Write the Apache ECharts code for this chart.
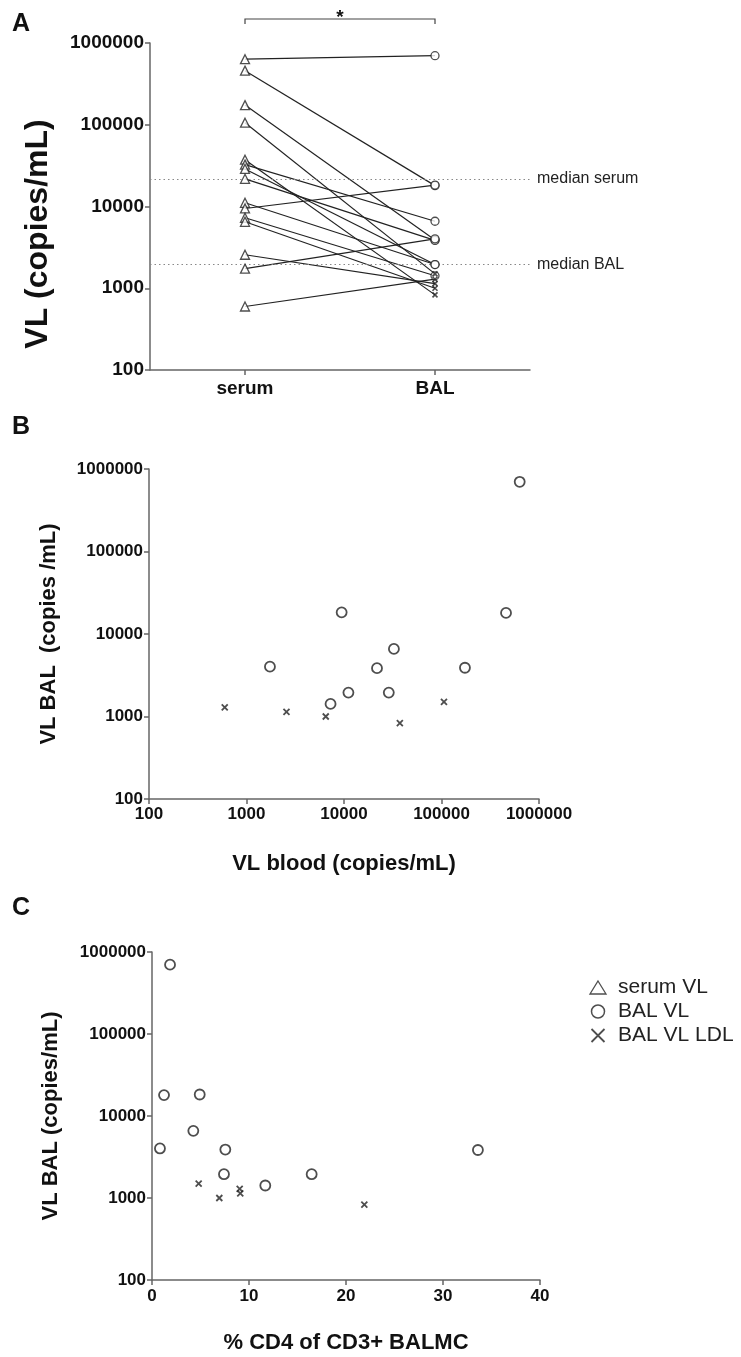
<!DOCTYPE html>
<html>
<head>
<meta charset="utf-8">
<script src="https://cdn.jsdelivr.net/npm/echarts@6/dist/echarts.min.js"></script>
<style>
html,body{margin:0;padding:0;background:#fff;}
#chart{width:741px;height:1357px;}
</style>
</head>
<body>
<div id="chart"></div>
<script>
// ---- data (per patient) ----
const categories = ['serum', 'BAL'];
const serumVL = [634000, 459000, 174000, 106000, 37400, 32500, 28800, 21800, 11100, 9460, 7280, 6500, 2570, 1740, 598];
const balVL   = [700000, 18000, 3900, 1500, 830, 6600, 1950, 3850, 1950, 18300, 1420, 1000, 1140, 4020, 1290];
const balLDL  = [false, false, false, true, true, false, false, false, false, false, false, true, true, false, true];
const cd4Pct  = [1.86, 1.24, 7.56, 4.81, 21.89, 4.26, 7.42, 33.6, 16.46, 4.92, 11.68, 6.94, 9.1, 0.82, 9.04];
const medianSerum = 21800;
const medianBAL = 1950;
const logTicks = [100, 1000, 10000, 100000, 1000000];
const cd4Ticks = [0, 10, 20, 30, 40];

const FONT = 'Liberation Sans';
const AX = '#666';
const CROSS = 'path://M0,0L10,10M10,0L0,10';

const chart = echarts.init(document.getElementById('chart'), null, {renderer: 'canvas'});

function logY(gridIndex, fs, name, gap) {
  return {
    type: 'log', logBase: 10, gridIndex: gridIndex, min: logTicks[0], max: logTicks[logTicks.length - 1],
    axisLine: {show: true, lineStyle: {color: AX, width: 1.5}},
    axisTick: {show: true, length: 5, lineStyle: {color: AX, width: 1.5}},
    splitLine: {show: false},
    axisLabel: {fontFamily: FONT, fontWeight: 'bold', fontSize: fs, color: '#111', margin: 6,
      formatter: v => String(Math.round(v))},
    name: name, nameLocation: 'middle', nameGap: gap,
    nameTextStyle: {fontFamily: FONT, fontWeight: 'bold', fontSize: 22, color: '#111'}
  };
}

const series = [];
// panel A: paired lines
for (let i = 0; i < serumVL.length; i++) {
  series.push({
    type: 'line', xAxisIndex: 0, yAxisIndex: 0, data: [serumVL[i], balVL[i]],
    symbol: 'none', lineStyle: {color: '#222', width: 1.2}, silent: true, z: 2
  });
}
const symStyle = {color: '#fff', borderColor: '#222', borderWidth: 1.3};
const crossStyle = {color: 'none', borderColor: '#222', borderWidth: 1.6};
// panel A markers
series.push({
  name: 'serum VL', type: 'scatter', xAxisIndex: 0, yAxisIndex: 0,
  data: serumVL.map(v => ['serum', v]), symbol: 'triangle', symbolSize: 9, itemStyle: symStyle, z: 5,
  markLine: {
    silent: true, symbol: 'none',
    lineStyle: {color: '#888', type: [1.5, 3], width: 1},
    label: {show: true, position: 'end', fontFamily: FONT, fontSize: 16, color: '#222', distance: 7,
      formatter: p => p.name},
    data: [{name: 'median serum', yAxis: medianSerum}, {name: 'median BAL', yAxis: medianBAL}]
  }
});
series.push({
  name: 'BAL VL', type: 'scatter', xAxisIndex: 0, yAxisIndex: 0,
  data: balVL.map((v, i) => balLDL[i] ? null : ['BAL', v]).filter(d => d), symbol: 'circle', symbolSize: 8, itemStyle: symStyle, z: 5
});
series.push({
  name: 'BAL VL LDL', type: 'scatter', xAxisIndex: 0, yAxisIndex: 0,
  data: balVL.map((v, i) => balLDL[i] ? ['BAL', v] : null).filter(d => d), symbol: CROSS, symbolSize: 5, itemStyle: crossStyle, z: 5
});
// panel B
series.push({
  name: 'BAL VL', type: 'scatter', xAxisIndex: 1, yAxisIndex: 1,
  data: serumVL.map((v, i) => balLDL[i] ? null : [v, balVL[i]]).filter(d => d),
  symbol: 'circle', symbolSize: 10, itemStyle: {color: '#fff', borderColor: '#222', borderWidth: 1.8}
});
series.push({
  name: 'BAL VL LDL', type: 'scatter', xAxisIndex: 1, yAxisIndex: 1,
  data: serumVL.map((v, i) => balLDL[i] ? [v, balVL[i]] : null).filter(d => d),
  symbol: CROSS, symbolSize: 6, itemStyle: {color: 'none', borderColor: '#222', borderWidth: 1.8}
});
// panel C
series.push({
  name: 'BAL VL', type: 'scatter', xAxisIndex: 2, yAxisIndex: 2,
  data: cd4Pct.map((v, i) => balLDL[i] ? null : [v, balVL[i]]).filter(d => d),
  symbol: 'circle', symbolSize: 10, itemStyle: {color: '#fff', borderColor: '#222', borderWidth: 1.8}
});
series.push({
  name: 'BAL VL LDL', type: 'scatter', xAxisIndex: 2, yAxisIndex: 2,
  data: cd4Pct.map((v, i) => balLDL[i] ? [v, balVL[i]] : null).filter(d => d),
  symbol: CROSS, symbolSize: 6, itemStyle: {color: 'none', borderColor: '#222', borderWidth: 1.8}
});

const yA = logY(0, 19, '', 90);
const yB = logY(1, 17, 'VL BAL  (copies /mL)', 89);
const yC = logY(2, 17, 'VL BAL (copies/mL)', 90);

const option = {
  animation: false,
  backgroundColor: '#fff',
  textStyle: {fontFamily: FONT},
  grid: [
    {left: 150, top: 43, width: 380, height: 327},
    {left: 149, top: 469, width: 390, height: 330},
    {left: 152, top: 952, width: 388, height: 328}
  ],
  xAxis: [
    {type: 'category', gridIndex: 0, data: categories, boundaryGap: true,
      axisLine: {lineStyle: {color: AX, width: 1.5}},
      axisTick: {show: true, alignWithLabel: true, length: 5, lineStyle: {color: AX, width: 1.5}},
      axisLabel: {fontFamily: FONT, fontWeight: 'bold', fontSize: 19, color: '#111', margin: 9}},
    {type: 'log', logBase: 10, gridIndex: 1, min: logTicks[0], max: logTicks[logTicks.length - 1],
      axisLine: {lineStyle: {color: AX, width: 1.5}},
      axisTick: {show: true, length: 5, lineStyle: {color: AX, width: 1.5}},
      splitLine: {show: false},
      axisLabel: {fontFamily: FONT, fontWeight: 'bold', fontSize: 17, color: '#111', margin: 7,
        formatter: v => String(Math.round(v))},
      name: 'VL blood (copies/mL)', nameLocation: 'middle', nameGap: 54,
      nameTextStyle: {fontFamily: FONT, fontWeight: 'bold', fontSize: 22, color: '#111'}},
    {type: 'value', gridIndex: 2, min: cd4Ticks[0], max: cd4Ticks[cd4Ticks.length - 1], interval: 10,
      axisLine: {lineStyle: {color: AX, width: 1.5}},
      axisTick: {show: true, length: 5, lineStyle: {color: AX, width: 1.5}},
      splitLine: {show: false},
      axisLabel: {fontFamily: FONT, fontWeight: 'bold', fontSize: 17, color: '#111', margin: 8},
      name: '% CD4 of CD3+ BALMC', nameLocation: 'middle', nameGap: 52,
      nameTextStyle: {fontFamily: FONT, fontWeight: 'bold', fontSize: 22, color: '#111'}}
  ],
  yAxis: [yA, yB, yC],
  legend: {
    orient: 'vertical', left: 584, top: 972, itemGap: 3, itemWidth: 16, itemHeight: 13,
    data: [
      {name: 'serum VL', icon: 'triangle', itemStyle: {color: '#fff', borderColor: '#222', borderWidth: 1.3}},
      {name: 'BAL VL', icon: 'circle', itemStyle: {color: '#fff', borderColor: '#222', borderWidth: 1.5}},
      {name: 'BAL VL LDL', icon: CROSS, itemStyle: {color: 'none', borderColor: '#222', borderWidth: 1.8}}
    ],
    textStyle: {fontFamily: FONT, fontSize: 21, color: '#222', padding: [0, 0, 0, 7]},
    selectedMode: false
  },
  graphic: [
    {type: 'text', left: 12, top: 12, style: {text: 'A', font: 'bold 25px ' + FONT, fill: '#111'}},
    {type: 'text', left: 12, top: 415, style: {text: 'B', font: 'bold 25px ' + FONT, fill: '#111'}},
    {type: 'text', left: 12, top: 896, style: {text: 'C', font: 'bold 25px ' + FONT, fill: '#111'}},
    {type: 'text', x: 38, y: 234, rotation: Math.PI / 2,
      style: {text: 'VL (copies/mL)', font: 'bold 32px ' + FONT, fill: '#111', textAlign: 'center', textVerticalAlign: 'middle'}}
  ],
  series: series
};
chart.setOption(option);

// significance bracket between serum and BAL columns
const xS = chart.convertToPixel({xAxisIndex: 0}, 'serum');
const xB = chart.convertToPixel({xAxisIndex: 0}, 'BAL');
const yBr = 19;
chart.setOption({
  graphic: option.graphic.concat([
    {type: 'polyline', shape: {points: [[xS, yBr + 5], [xS, yBr], [xB, yBr], [xB, yBr + 5]]},
      style: {stroke: '#444', lineWidth: 1.2, fill: null}},
    {type: 'text', x: (xS + xB) / 2, y: 18,
      style: {text: '*', font: 'bold 19px ' + FONT, fill: '#111', textAlign: 'center', textVerticalAlign: 'middle'}}
  ])
});
</script>
</body>
</html>
